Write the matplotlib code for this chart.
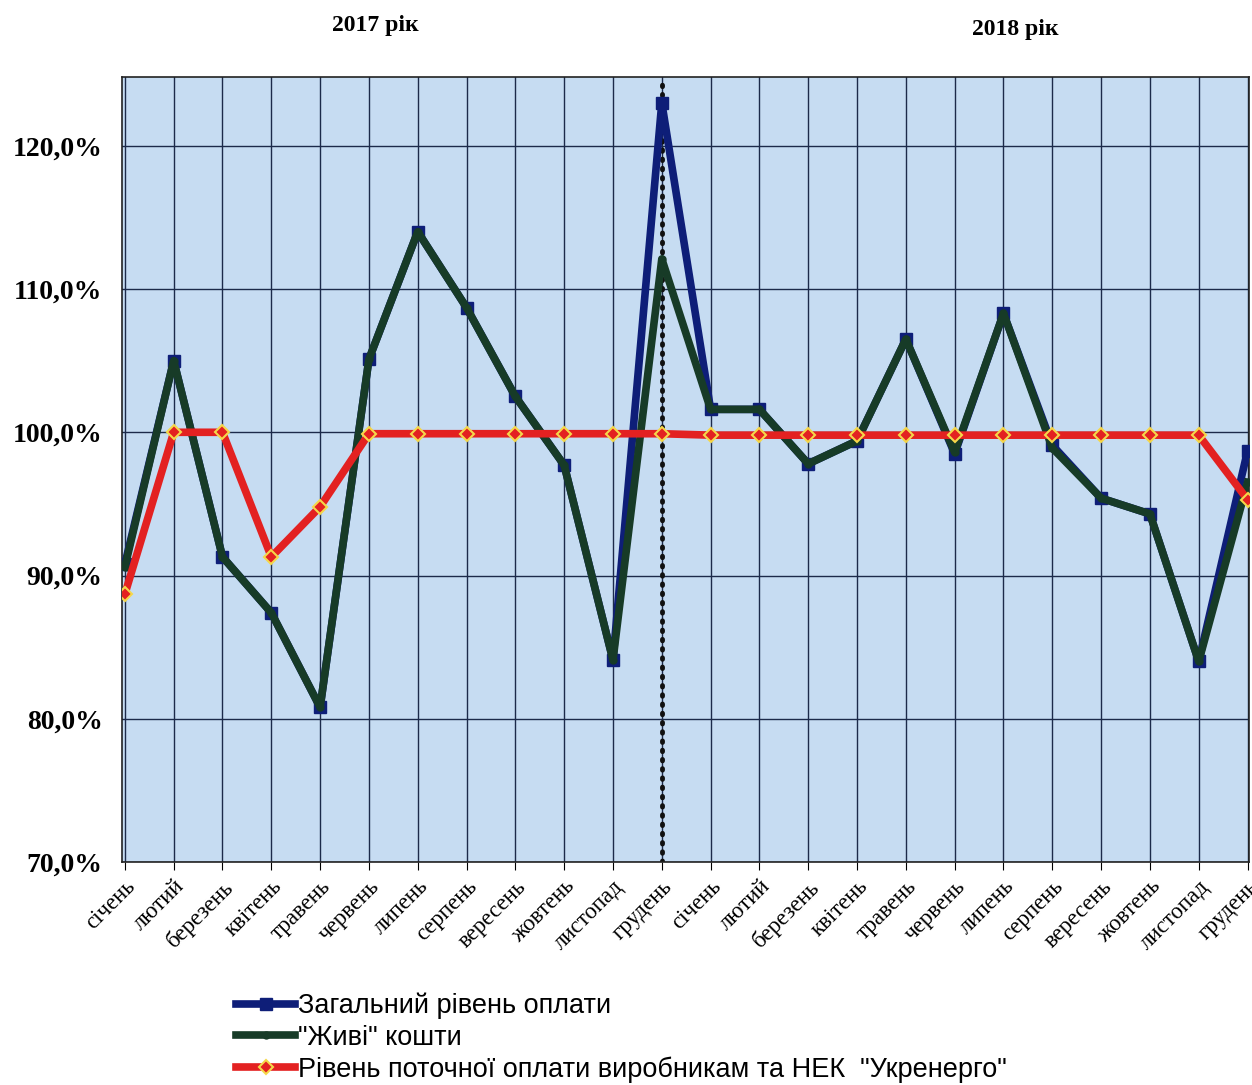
import matplotlib.pyplot as plt
import numpy as np

# ---- data ----
months = ["січень", "лютий", "березень", "квітень", "травень", "червень",
          "липень", "серпень", "вересень", "жовтень", "листопад", "грудень"]
labels = months + months

zagalnyi = [90.8, 105.0, 91.3, 87.4, 80.8, 105.1, 114.0, 108.7, 102.5, 97.7, 84.1, 123.0,
            101.6, 101.6, 97.8, 99.4, 106.5, 98.5, 108.3, 99.1, 95.4, 94.3, 84.0, 98.7]
zhyvi = [90.6, 105.0, 91.3, 87.4, 80.8, 105.1, 114.0, 108.7, 102.5, 97.7, 84.1, 112.1,
         101.6, 101.6, 97.8, 99.4, 106.5, 98.6, 108.3, 98.9, 95.4, 94.3, 84.0, 96.5]
potochna = [88.7, 100.0, 100.0, 91.3, 94.8, 99.9, 99.9, 99.9, 99.9, 99.9, 99.9, 99.9,
            99.8, 99.8, 99.8, 99.8, 99.8, 99.8, 99.8, 99.8, 99.8, 99.8, 99.8, 95.3]

x = np.arange(len(labels))

fig = plt.figure(figsize=(12.52, 10.85), dpi=100)
ax = fig.add_axes([0.0974, 0.2055, 0.9006, 0.7235])
ax.set_facecolor("#c6dcf2")

# grid
for xi in x:
    ax.axvline(xi, color="#1c2a4a", lw=1.0, zorder=1)
for yv in range(70, 121, 10):
    ax.axhline(yv, color="#1c2a4a", lw=1.0, zorder=1)
# year divider
ax.axvline(11, color="#111111", lw=3.5, ls=(0, (0.3, 1.6)), dash_capstyle="round", zorder=2)

ax.plot(x, zagalnyi, color="#0e1e78", lw=5.5, marker="s", markersize=9, zorder=3,
        label="Загальний рівень оплати")
ax.plot(x, zhyvi, color="#173b27", lw=5.5, marker="o", markersize=5, zorder=4,
        label="\"Живі\" кошти")
ax.plot(x, potochna, color="#e32121", lw=5.5, marker="D", markersize=7,
        markerfacecolor="#e32121", markeredgecolor="#f5d84a", markeredgewidth=1.5, zorder=5,
        label="Рівень поточної оплати виробникам та НЕК  \"Укренерго\"")

ax.set_xlim(-0.06, 23.04)
ax.set_ylim(70, 124.8)
ax.set_yticks(range(70, 121, 10))
ax.set_yticklabels([f"{v},0%" for v in range(70, 121, 10)],
                   fontfamily="Liberation Serif", fontweight="bold", fontsize=20)
ax.set_xticks(x)
ax.set_xticklabels(labels, rotation=45, ha="right", rotation_mode="anchor",
                   fontfamily="Liberation Serif", fontsize=16.5)
ax.tick_params(axis="y", length=0, pad=14)
ax.tick_params(axis="x", length=6, pad=4)
for s in ax.spines.values():
    s.set_color("#222222")
    s.set_linewidth(1.2)

fig.text(375 / 1252, 1 - 25 / 1085, "2017 рік", ha="center", va="center",
         fontfamily="Liberation Serif", fontweight="bold", fontsize=17)
fig.text(1015 / 1252, 1 - 30 / 1085, "2018 рік", ha="center", va="center",
         fontfamily="Liberation Serif", fontweight="bold", fontsize=17)

fig.legend(loc="upper left", bbox_to_anchor=(225 / 1252, 1 - 982 / 1085), frameon=False,
           prop={"family": ["Liberation Sans"], "size": 19.5},
           handlelength=2.2, handletextpad=0.1, labelspacing=0.2, borderaxespad=0)

fig.savefig("out.png", dpi=100)
